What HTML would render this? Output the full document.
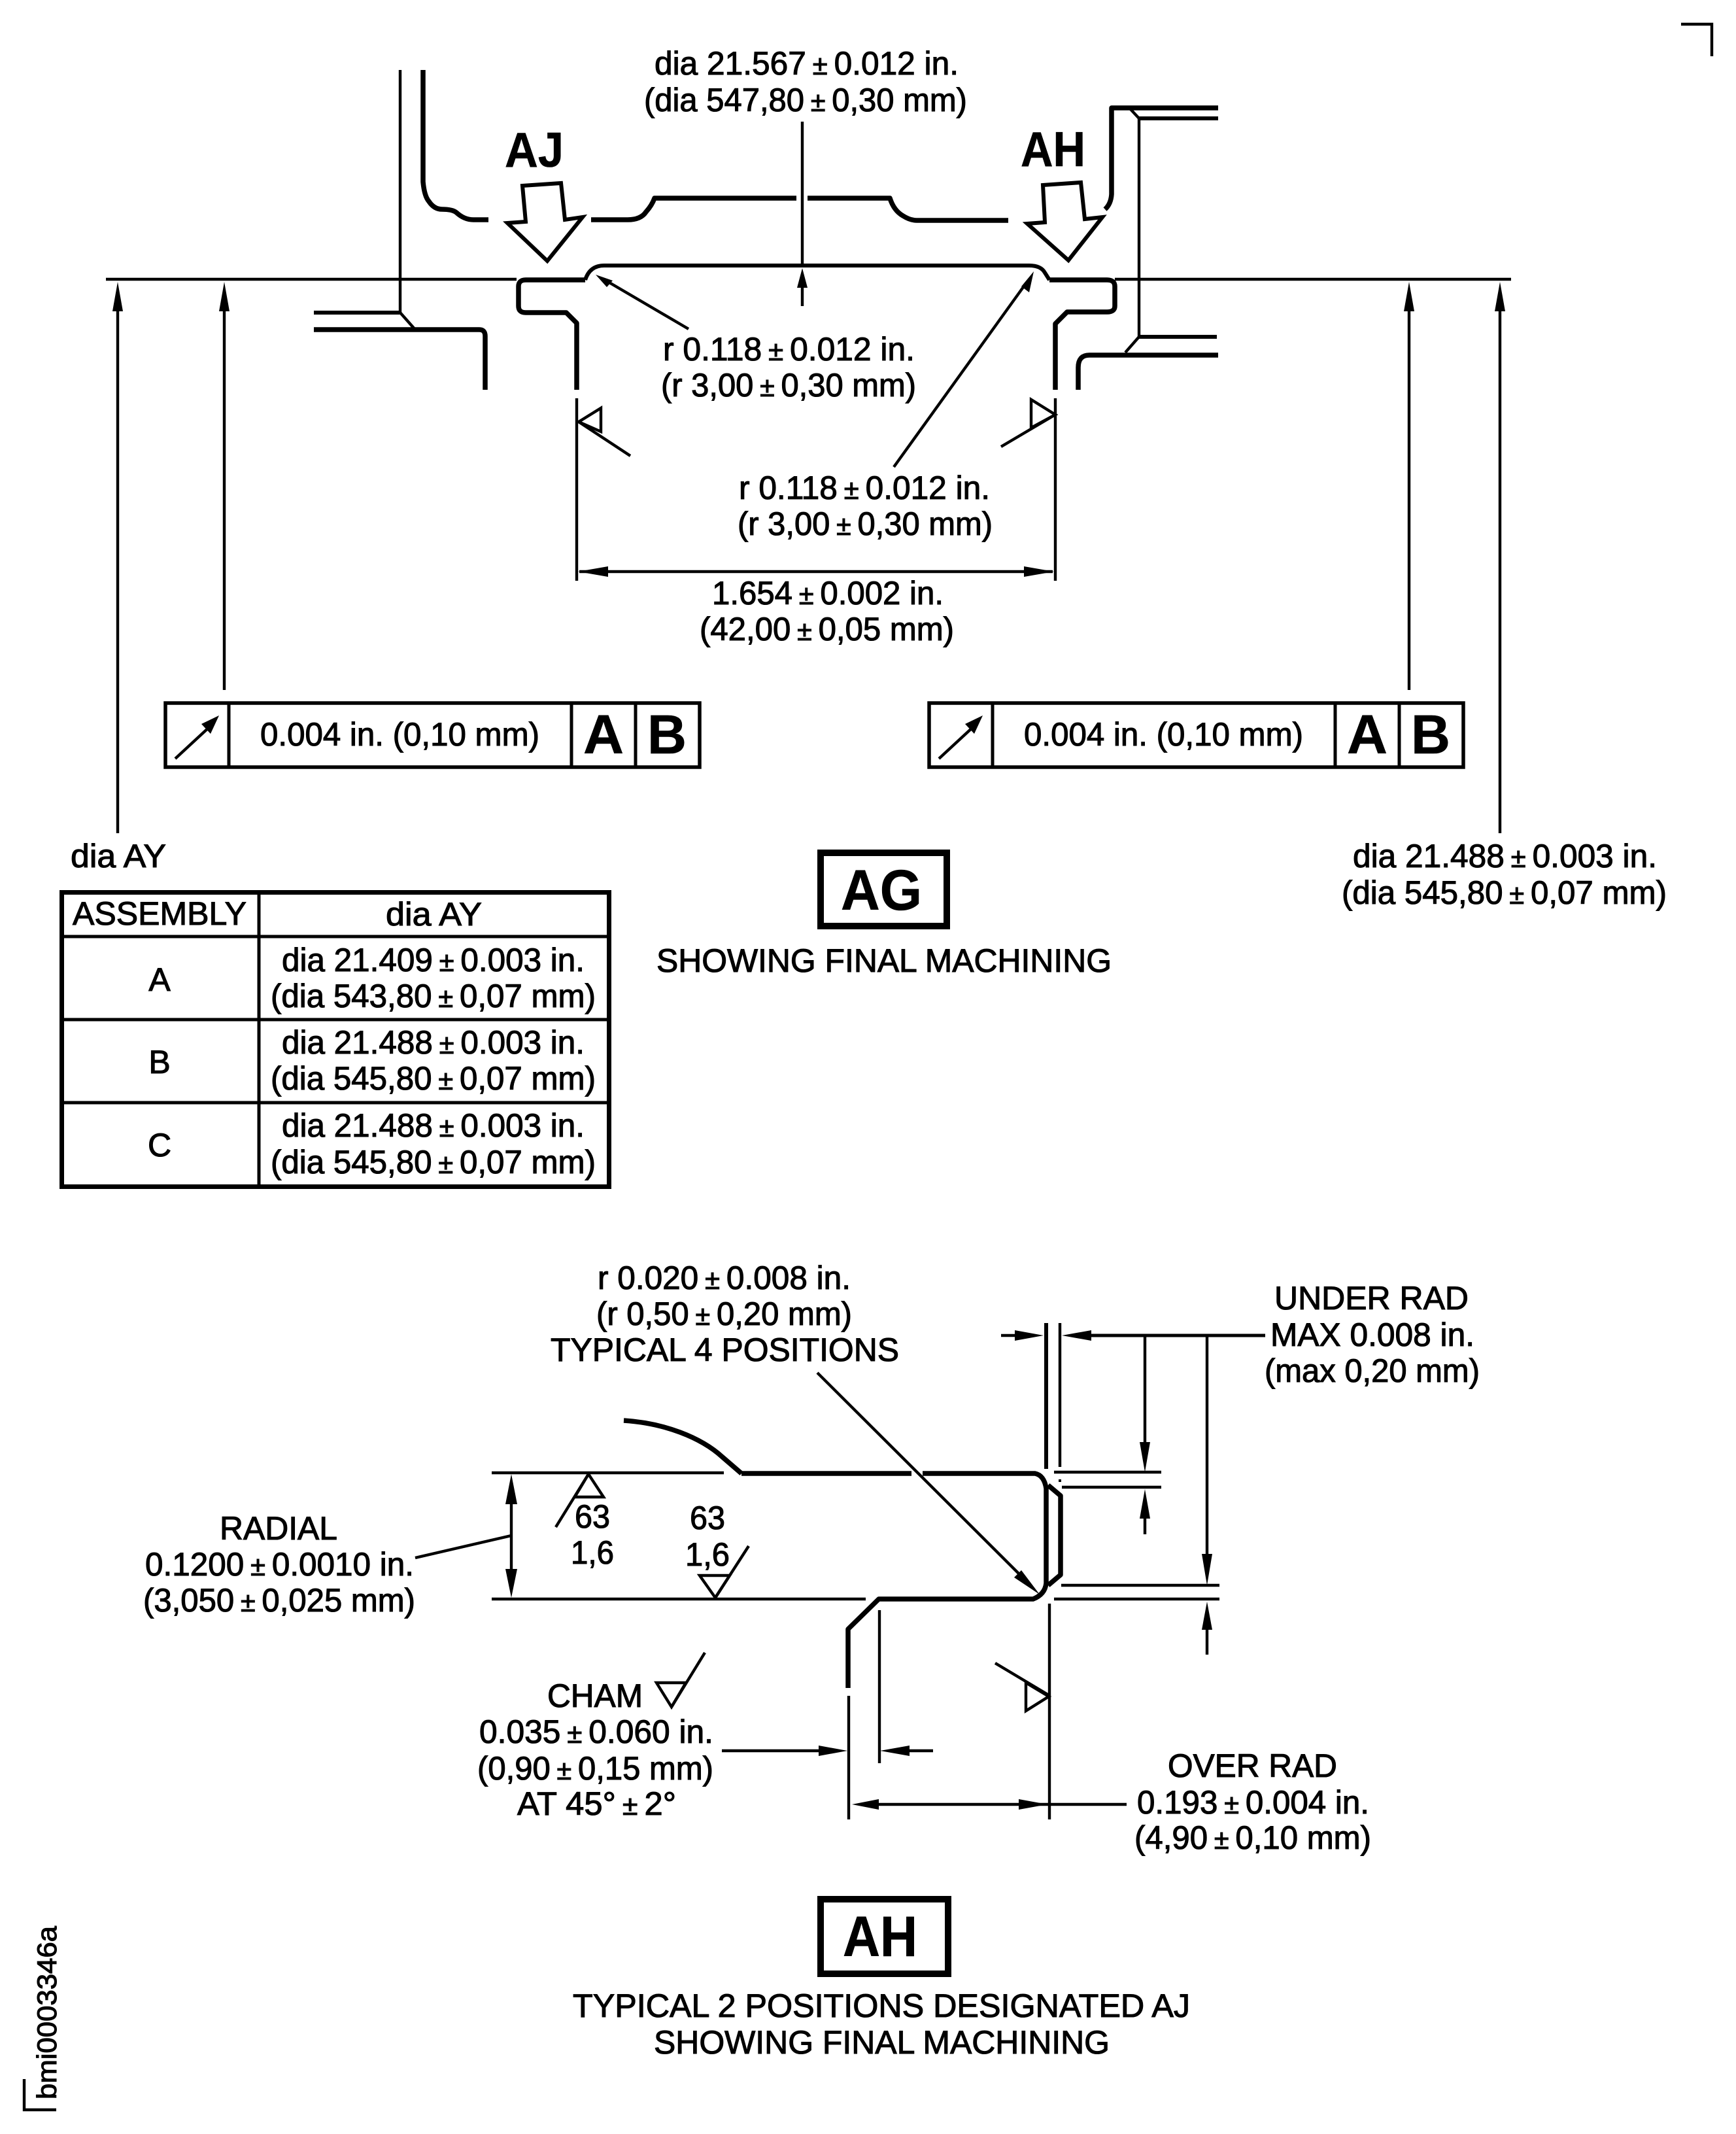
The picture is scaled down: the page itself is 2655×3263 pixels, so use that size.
<!DOCTYPE html>
<html>
<head>
<meta charset="utf-8">
<style>
html,body{margin:0;padding:0;background:#fff}
svg{display:block}
text{font-family:"Liberation Sans",sans-serif;fill:#000;stroke:#000;stroke-width:1.1px;font-size:50px}
text.b{font-weight:bold;stroke-width:.6px}
tspan.p{font-size:42px}
.k{fill:none;stroke:#000;stroke-width:7.5;stroke-linejoin:round}
.m{fill:none;stroke:#000;stroke-width:6;stroke-linejoin:miter}
.n{fill:none;stroke:#000;stroke-width:4.4}
.h{fill:#000;stroke:none}
</style>
</head>
<body>
<svg xmlns="http://www.w3.org/2000/svg" width="2655" height="3263" viewBox="0 0 2655 3263">
<rect width="2655" height="3263" fill="#fff"/>

<!-- corner marks -->
<polyline class="n" points="2571,37 2618,37 2618,86"/>
<polyline class="n" points="37,3179 37,3226 86,3226"/>
<text transform="translate(86,3210) rotate(-90)" style="font-size:42px" textLength="265" lengthAdjust="spacingAndGlyphs">bmi0003346a</text>

<!-- ===== AG top drawing ===== -->
<line class="n" x1="162" y1="427" x2="790" y2="427"/>
<line class="n" x1="1705" y1="427" x2="2311" y2="427"/>

<line class="n" x1="612" y1="107" x2="612" y2="478"/>
<path class="k" d="M647,107 V278 Q649,300 656,308 Q664,320 676,320 Q692,320 698,325 Q710,336 724,336 H747"/>
<path class="k" d="M904,336 H960 Q980,336 988,324 Q997,314 1001,303 H1218"/>
<path class="k" d="M1235,303 H1361 Q1367,322 1381,330 Q1392,337 1402,337 H1542"/>
<line class="m" x1="480" y1="478" x2="612" y2="478"/>
<line class="n" x1="612" y1="478" x2="635" y2="504"/>
<path class="k" d="M480,504 H733 Q742,504 742,514 V596"/>

<path class="k" d="M895,428 H804 Q793,428 793,438 V468 Q793,478 804,478 H866 L882,494 V596"/>
<path class="m" d="M895,428 Q902,406 924,406 H1574 Q1592,406 1598,417 L1605,428"/>
<path class="k" d="M1605,428 H1693 Q1705,428 1705,438 V468 Q1705,477 1693,477 H1632 L1614,495 V596"/>
<line class="n" x1="882" y1="609" x2="882" y2="888"/>
<line class="n" x1="1614" y1="609" x2="1614" y2="888"/>

<path class="k" d="M1863,165 H1700 V297 Q1699,312 1690,320"/>
<line class="m" x1="1863" y1="181" x2="1742" y2="181"/>
<line class="n" x1="1729" y1="167" x2="1742" y2="181"/>
<line class="n" x1="1742" y1="181" x2="1742" y2="515"/>
<line class="m" x1="1742" y1="515" x2="1861" y2="515"/>
<line class="n" x1="1742" y1="515" x2="1721" y2="539"/>
<path class="k" d="M1649,596 V562 Q1649,543 1666,543 H1863"/>

<polygon class="m" points="799,284 858,280 864,336 891,332 837,399 776,341 804,339"/>
<polygon class="m" points="1595,283 1653,279 1659,335 1686,332 1634,398 1571,342 1598,340"/>
<text class="b" x="772" y="255" style="font-size:75px" textLength="90" lengthAdjust="spacingAndGlyphs">AJ</text>
<text class="b" x="1561" y="254" style="font-size:75px" textLength="99" lengthAdjust="spacingAndGlyphs">AH</text>

<line class="n" x1="1227" y1="186" x2="1227" y2="408"/>
<line class="n" x1="1227" y1="430" x2="1227" y2="468"/>
<polygon class="h" points="1227,410 1235,440 1219,440"/>

<line class="n" x1="1053" y1="503" x2="925" y2="428"/>
<polygon class="h" points="911,420 937,429 928,439"/>
<line class="n" x1="1367" y1="714" x2="1570" y2="432"/>
<polygon class="h" points="1581,415 1562,438 1574,447"/>

<polygon class="n" points="885,645 919,624 919,660"/>
<line class="n" x1="885" y1="645" x2="964" y2="697"/>
<polygon class="n" points="1614,634 1577,611 1577,654"/>
<line class="n" x1="1614" y1="634" x2="1531" y2="683"/>

<line class="n" x1="886" y1="874" x2="1610" y2="874"/>
<polygon class="h" points="884,874 930,866 930,882"/>
<polygon class="h" points="1612,874 1566,866 1566,882"/>

<line class="n" x1="180" y1="450" x2="180" y2="1274"/>
<polygon class="h" points="180,431 188,476 172,476"/>
<line class="n" x1="343" y1="450" x2="343" y2="1055"/>
<polygon class="h" points="343,431 351,476 335,476"/>
<line class="n" x1="2155" y1="450" x2="2155" y2="1055"/>
<polygon class="h" points="2155,431 2163,476 2147,476"/>
<line class="n" x1="2294" y1="450" x2="2294" y2="1274"/>
<polygon class="h" points="2294,431 2302,476 2286,476"/>

<text x="1001" y="114" textLength="465" lengthAdjust="spacingAndGlyphs">dia 21.567&#8201;<tspan class="p">±</tspan>&#8201;0.012 in.</text>
<text x="985" y="170" textLength="494" lengthAdjust="spacingAndGlyphs">(dia 547,80&#8201;<tspan class="p">±</tspan>&#8201;0,30 mm)</text>
<text x="1014" y="551" textLength="385" lengthAdjust="spacingAndGlyphs">r 0.118&#8201;<tspan class="p">±</tspan>&#8201;0.012 in.</text>
<text x="1011" y="606" textLength="390" lengthAdjust="spacingAndGlyphs">(r 3,00&#8201;<tspan class="p">±</tspan>&#8201;0,30 mm)</text>
<text x="1130" y="763" textLength="384" lengthAdjust="spacingAndGlyphs">r 0.118&#8201;<tspan class="p">±</tspan>&#8201;0.012 in.</text>
<text x="1128" y="818" textLength="390" lengthAdjust="spacingAndGlyphs">(r 3,00&#8201;<tspan class="p">±</tspan>&#8201;0,30 mm)</text>
<text x="1089" y="924" textLength="354" lengthAdjust="spacingAndGlyphs">1.654&#8201;<tspan class="p">±</tspan>&#8201;0.002 in.</text>
<text x="1070" y="979" textLength="389" lengthAdjust="spacingAndGlyphs">(42,00&#8201;<tspan class="p">±</tspan>&#8201;0,05 mm)</text>

<!-- FCF left -->
<rect x="253" y="1075" width="817" height="98" fill="none" stroke="#000" stroke-width="5.5"/>
<line x1="350" y1="1075" x2="350" y2="1173" stroke="#000" stroke-width="5"/>
<line x1="874" y1="1075" x2="874" y2="1173" stroke="#000" stroke-width="5"/>
<line x1="972" y1="1075" x2="972" y2="1173" stroke="#000" stroke-width="5"/>
<line class="n" x1="268" y1="1160" x2="322" y2="1110"/>
<polygon class="h" points="335,1094 308,1107 322,1122"/>
<text x="398" y="1140" textLength="427" lengthAdjust="spacingAndGlyphs">0.004 in. (0,10 mm)</text>
<text class="b" x="892" y="1152" style="font-size:84px" textLength="62" lengthAdjust="spacingAndGlyphs">A</text>
<text class="b" x="990" y="1152" style="font-size:84px" textLength="60" lengthAdjust="spacingAndGlyphs">B</text>

<!-- FCF right -->
<rect x="1421" y="1075" width="817" height="98" fill="none" stroke="#000" stroke-width="5.5"/>
<line x1="1518" y1="1075" x2="1518" y2="1173" stroke="#000" stroke-width="5"/>
<line x1="2042" y1="1075" x2="2042" y2="1173" stroke="#000" stroke-width="5"/>
<line x1="2140" y1="1075" x2="2140" y2="1173" stroke="#000" stroke-width="5"/>
<line class="n" x1="1436" y1="1160" x2="1490" y2="1110"/>
<polygon class="h" points="1503,1094 1476,1107 1490,1122"/>
<text x="1566" y="1140" textLength="427" lengthAdjust="spacingAndGlyphs">0.004 in. (0,10 mm)</text>
<text class="b" x="2060" y="1152" style="font-size:84px" textLength="62" lengthAdjust="spacingAndGlyphs">A</text>
<text class="b" x="2158" y="1152" style="font-size:84px" textLength="60" lengthAdjust="spacingAndGlyphs">B</text>

<!-- dia AY + table -->
<text x="108" y="1326" textLength="146" lengthAdjust="spacingAndGlyphs">dia AY</text>
<rect x="94.5" y="1364.5" width="837" height="450" fill="none" stroke="#000" stroke-width="7"/>
<line x1="396" y1="1364" x2="396" y2="1815" stroke="#000" stroke-width="5"/>
<line x1="94" y1="1432" x2="931" y2="1432" stroke="#000" stroke-width="5"/>
<line x1="94" y1="1559" x2="931" y2="1559" stroke="#000" stroke-width="5"/>
<line x1="94" y1="1686" x2="931" y2="1686" stroke="#000" stroke-width="5"/>
<text x="111" y="1414" textLength="266" lengthAdjust="spacingAndGlyphs">ASSEMBLY</text>
<text x="590" y="1415" textLength="147" lengthAdjust="spacingAndGlyphs">dia AY</text>
<text x="244" y="1515" text-anchor="middle">A</text>
<text x="244" y="1641" text-anchor="middle">B</text>
<text x="244" y="1768" text-anchor="middle">C</text>
<text x="431" y="1485" textLength="463" lengthAdjust="spacingAndGlyphs">dia 21.409&#8201;<tspan class="p">±</tspan>&#8201;0.003 in.</text>
<text x="414" y="1540" textLength="497" lengthAdjust="spacingAndGlyphs">(dia 543,80&#8201;<tspan class="p">±</tspan>&#8201;0,07 mm)</text>
<text x="431" y="1611" textLength="463" lengthAdjust="spacingAndGlyphs">dia 21.488&#8201;<tspan class="p">±</tspan>&#8201;0.003 in.</text>
<text x="414" y="1666" textLength="497" lengthAdjust="spacingAndGlyphs">(dia 545,80&#8201;<tspan class="p">±</tspan>&#8201;0,07 mm)</text>
<text x="431" y="1738" textLength="463" lengthAdjust="spacingAndGlyphs">dia 21.488&#8201;<tspan class="p">±</tspan>&#8201;0.003 in.</text>
<text x="414" y="1794" textLength="497" lengthAdjust="spacingAndGlyphs">(dia 545,80&#8201;<tspan class="p">±</tspan>&#8201;0,07 mm)</text>

<!-- AG label -->
<rect x="1255" y="1304" width="193" height="112" fill="none" stroke="#000" stroke-width="10"/>
<text class="b" x="1286" y="1391" style="font-size:87px" textLength="124" lengthAdjust="spacingAndGlyphs">AG</text>
<text x="1004" y="1486" textLength="696" lengthAdjust="spacingAndGlyphs">SHOWING FINAL MACHINING</text>

<text x="2069" y="1326" textLength="465" lengthAdjust="spacingAndGlyphs">dia 21.488&#8201;<tspan class="p">±</tspan>&#8201;0.003 in.</text>
<text x="2052" y="1382" textLength="497" lengthAdjust="spacingAndGlyphs">(dia 545,80&#8201;<tspan class="p">±</tspan>&#8201;0,07 mm)</text>

<!-- ===== AH detail drawing ===== -->
<path class="k" d="M954,2172 Q1000,2175 1040,2190 Q1080,2205 1105,2228 L1134,2253"/>
<line class="n" x1="752" y1="2252" x2="1107" y2="2252"/>
<path class="k" d="M1134,2253 H1394"/>
<path class="k" d="M1411,2253 H1583 Q1597,2256 1600,2276 V2421 Q1598,2438 1580,2445 H1344 L1297,2491 V2581"/>
<line class="n" x1="752" y1="2445" x2="1324" y2="2445"/>
<polyline class="k" points="1603,2271 1622,2287 1622,2408 1603,2424"/>

<line class="m" x1="1600" y1="2023" x2="1600" y2="2246"/>
<line class="n" x1="1621" y1="2023" x2="1621" y2="2243"/>
<rect x="1619" y="2262" width="4" height="4"/>

<line class="n" x1="1298" y1="2593" x2="1298" y2="2782"/>
<line class="n" x1="1605" y1="2452" x2="1605" y2="2782"/>
<line class="n" x1="1345" y1="2462" x2="1345" y2="2696"/>

<line class="n" x1="1531" y1="2042" x2="1570" y2="2042"/>
<polygon class="h" points="1596,2042 1552,2034 1552,2050"/>
<line class="n" x1="1650" y1="2042" x2="1935" y2="2042" style="stroke-width:5"/>
<polygon class="h" points="1624,2042 1669,2034 1669,2050"/>

<line class="n" x1="1751" y1="2042" x2="1751" y2="2215"/>
<polygon class="h" points="1751,2251 1743,2205 1759,2205"/>
<line class="n" x1="1612" y1="2251" x2="1776" y2="2251"/>
<line class="n" x1="1624" y1="2274" x2="1776" y2="2274"/>
<polygon class="h" points="1751,2277 1743,2322 1759,2322"/>
<line class="n" x1="1751" y1="2310" x2="1751" y2="2346"/>

<line class="n" x1="1846" y1="2042" x2="1846" y2="2390"/>
<polygon class="h" points="1846,2424 1838,2376 1854,2376"/>
<line class="n" x1="1623" y1="2424" x2="1865" y2="2424"/>
<line class="n" x1="1612" y1="2445" x2="1865" y2="2445"/>
<polygon class="h" points="1846,2449 1838,2492 1854,2492"/>
<line class="n" x1="1846" y1="2480" x2="1846" y2="2530"/>

<line class="n" x1="1104" y1="2677" x2="1270" y2="2677"/>
<polygon class="h" points="1296,2677 1252,2669 1252,2685"/>
<line class="n" x1="1370" y1="2677" x2="1427" y2="2677"/>
<polygon class="h" points="1346,2677 1391,2669 1391,2685"/>

<line class="n" x1="1330" y1="2759" x2="1723" y2="2759"/>
<polygon class="h" points="1303,2759 1344,2751 1344,2767"/>
<polygon class="h" points="1602,2759 1558,2751 1558,2767"/>

<line class="n" x1="1522" y1="2543" x2="1604" y2="2592"/>
<polygon class="n" points="1569,2573 1569,2616 1604,2594"/>

<line class="n" x1="1250" y1="2099" x2="1570" y2="2418"/>
<polygon class="h" points="1590,2438 1562,2401 1551,2412"/>

<line class="n" x1="635" y1="2382" x2="782" y2="2348"/>
<line class="n" x1="782" y1="2280" x2="782" y2="2420"/>
<polygon class="h" points="782,2254 791,2300 773,2300"/>
<polygon class="h" points="782,2443 791,2399 773,2399"/>

<polygon class="n" points="900,2254 879,2289 923,2289" />
<line class="n" x1="900" y1="2254" x2="850" y2="2335"/>
<text x="879" y="2336" textLength="54" lengthAdjust="spacingAndGlyphs">63</text>
<text x="873" y="2391" textLength="66" lengthAdjust="spacingAndGlyphs">1,6</text>
<text x="1055" y="2338" textLength="54" lengthAdjust="spacingAndGlyphs">63</text>
<text x="1048" y="2394" textLength="68" lengthAdjust="spacingAndGlyphs">1,6</text>
<polygon class="n" points="1070,2409 1116,2409 1094,2443"/>
<line class="n" x1="1094" y1="2443" x2="1145" y2="2364"/>
<polygon class="n" points="1004,2573 1049,2573 1027,2610"/>
<line class="n" x1="1027" y1="2610" x2="1078" y2="2527"/>

<text x="914" y="1971" textLength="387" lengthAdjust="spacingAndGlyphs">r 0.020&#8201;<tspan class="p">±</tspan>&#8201;0.008 in.</text>
<text x="912" y="2026" textLength="391" lengthAdjust="spacingAndGlyphs">(r 0,50&#8201;<tspan class="p">±</tspan>&#8201;0,20 mm)</text>
<text x="842" y="2081" textLength="533" lengthAdjust="spacingAndGlyphs">TYPICAL 4 POSITIONS</text>
<text x="1949" y="2002" textLength="297" lengthAdjust="spacingAndGlyphs">UNDER RAD</text>
<text x="1943" y="2058" textLength="312" lengthAdjust="spacingAndGlyphs">MAX 0.008 in.</text>
<text x="1934" y="2113" textLength="329" lengthAdjust="spacingAndGlyphs">(max 0,20 mm)</text>
<text x="336" y="2354" textLength="180" lengthAdjust="spacingAndGlyphs">RADIAL</text>
<text x="222" y="2409" textLength="411" lengthAdjust="spacingAndGlyphs">0.1200&#8201;<tspan class="p">±</tspan>&#8201;0.0010 in.</text>
<text x="219" y="2464" textLength="416" lengthAdjust="spacingAndGlyphs">(3,050&#8201;<tspan class="p">±</tspan>&#8201;0,025 mm)</text>
<text x="837" y="2610" textLength="146" lengthAdjust="spacingAndGlyphs">CHAM</text>
<text x="733" y="2665" textLength="358" lengthAdjust="spacingAndGlyphs">0.035&#8201;<tspan class="p">±</tspan>&#8201;0.060 in.</text>
<text x="730" y="2721" textLength="361" lengthAdjust="spacingAndGlyphs">(0,90&#8201;<tspan class="p">±</tspan>&#8201;0,15 mm)</text>
<text x="791" y="2775" textLength="243" lengthAdjust="spacingAndGlyphs">AT 45°&#8201;<tspan class="p">±</tspan>&#8201;2°</text>
<text x="1786" y="2717" textLength="259" lengthAdjust="spacingAndGlyphs">OVER RAD</text>
<text x="1739" y="2773" textLength="355" lengthAdjust="spacingAndGlyphs">0.193&#8201;<tspan class="p">±</tspan>&#8201;0.004 in.</text>
<text x="1735" y="2827" textLength="362" lengthAdjust="spacingAndGlyphs">(4,90&#8201;<tspan class="p">±</tspan>&#8201;0,10 mm)</text>

<rect x="1255" y="2904" width="195" height="114" fill="none" stroke="#000" stroke-width="10"/>
<text class="b" x="1289" y="2991" style="font-size:87px" textLength="114" lengthAdjust="spacingAndGlyphs">AH</text>
<text x="876" y="3084" textLength="944" lengthAdjust="spacingAndGlyphs">TYPICAL 2 POSITIONS DESIGNATED AJ</text>
<text x="1000" y="3140" textLength="697" lengthAdjust="spacingAndGlyphs">SHOWING FINAL MACHINING</text>
</svg>
</body>
</html>
